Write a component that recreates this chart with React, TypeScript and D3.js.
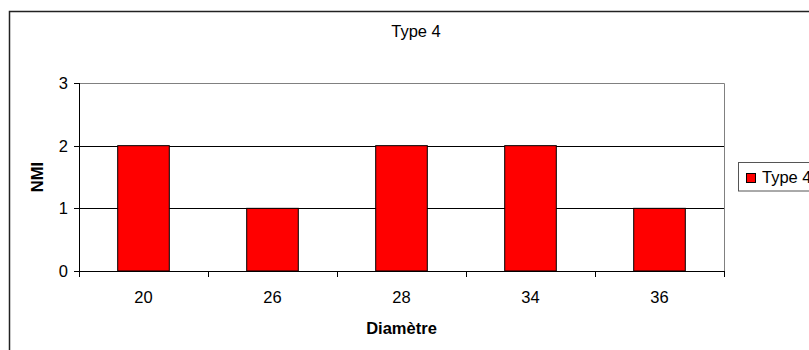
import * as d3 from 'd3'

const categories = ['20', '26', '28', '34', '36']
const values = [2, 1, 2, 2, 1]
const yTicks = [0, 1, 2, 3]
const seriesName = 'Type 4'
const title = 'Type 4'
const xTitle = 'Diamètre'
const yTitle = 'NMI'

const WIDTH = 809
const HEIGHT = 350
const PLOT = { left: 79, top: 83, right: 724, bottom: 271 }
const FONT = '"Liberation Sans", Arial, sans-serif'
const FS = 16.5

export default function App() {
  const x = d3
    .scaleBand<string>()
    .domain(categories)
    .range([PLOT.left, PLOT.right])
    .paddingInner(0.6)
    .paddingOuter(0.3)
  const y = d3.scaleLinear([0, 3], [PLOT.bottom, PLOT.top])
  const step = x.step()
  // category boundaries for x ticks
  const xTickPos = d3.range(categories.length + 1).map((i) => PLOT.left + i * step)

  return (
    <svg
      width={WIDTH}
      height={HEIGHT}
      viewBox={`0 0 ${WIDTH} ${HEIGHT}`}
      style={{ position: 'absolute', left: 0, top: 0, display: 'block', background: '#fff' }}
      fontFamily={FONT}
    >
      {/* chart frame, runs off the right and bottom edges */}
      <rect x={9.5} y={11.5} width={900} height={400} fill="#fff" stroke="#222" strokeWidth={1.5} />

      <text x={416} y={37} textAnchor="middle" fontSize={FS}>
        {title}
      </text>

      {/* gridlines */}
      {yTicks
        .filter((t) => t > 0 && t < 3)
        .map((t) => (
          <line key={t} x1={PLOT.left} x2={PLOT.right} y1={Math.round(y(t)) + 0.5} y2={Math.round(y(t)) + 0.5} stroke="#000" />
        ))}
      {/* plot area border, top & right */}
      <path
        d={`M${PLOT.left},${PLOT.top + 0.5}H${PLOT.right + 0.5}V${PLOT.bottom}`}
        fill="none"
        stroke="#808080"
      />

      {/* bars */}
      {categories.map((c, i) => (
        <rect
          key={c}
          x={x(c)!}
          y={y(values[i])}
          width={x.bandwidth()}
          height={y(0) - y(values[i])}
          fill="#ff0000"
          stroke="#000"
          strokeWidth={1}
        />
      ))}

      {/* y axis */}
      <line x1={PLOT.left + 0.5} x2={PLOT.left + 0.5} y1={PLOT.top} y2={PLOT.bottom} stroke="#000" />
      {yTicks.map((t) => (
        <g key={t}>
          <line x1={PLOT.left - 5} x2={PLOT.left} y1={Math.round(y(t)) + 0.5} y2={Math.round(y(t)) + 0.5} stroke="#000" />
          <text x={68} y={y(t) + 6} textAnchor="end" fontSize={FS}>
            {t}
          </text>
        </g>
      ))}

      {/* x axis */}
      <line x1={PLOT.left} x2={PLOT.right + 1} y1={PLOT.bottom + 0.5} y2={PLOT.bottom + 0.5} stroke="#000" />
      {xTickPos.map((p, i) => (
        <line key={i} x1={Math.round(p) + 0.5} x2={Math.round(p) + 0.5} y1={PLOT.bottom} y2={PLOT.bottom + 6} stroke="#000" />
      ))}
      {categories.map((c) => (
        <text key={c} x={x(c)! + x.bandwidth() / 2} y={302.5} textAnchor="middle" fontSize={FS}>
          {c}
        </text>
      ))}

      <text x={(PLOT.left + PLOT.right) / 2} y={334} textAnchor="middle" fontSize={FS} fontWeight="bold">
        {xTitle}
      </text>
      <text
        transform={`translate(43,${(PLOT.top + PLOT.bottom) / 2}) rotate(-90)`}
        textAnchor="middle"
        fontSize={FS}
        fontWeight="bold"
      >
        {yTitle}
      </text>

      {/* legend */}
      <rect x={738.5} y={162.5} width={120} height={28.5} fill="#fff" stroke="#555" />
      <rect x={746.5} y={173.5} width={9} height={9} fill="#ff0000" stroke="#000" />
      <text x={762} y={183} fontSize={FS}>
        {seriesName}
      </text>
    </svg>
  )
}
